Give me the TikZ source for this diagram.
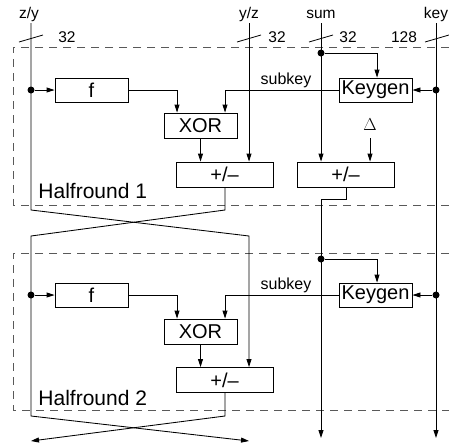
\documentclass[tikz,border=0pt]{standalone}
\usepackage{fontspec}
\setmainfont{Liberation Sans}
\usetikzlibrary{arrows.meta}
\begin{document}
\begin{tikzpicture}[x=1pt,y=-1pt,line width=0.85pt,
  >={Triangle[length=8pt,width=5pt]},
  blk/.style={draw,rectangle,inner sep=0pt,minimum height=24pt,font=\fontsize{20}{22}\selectfont},
  toplbl/.style={inner sep=0pt,font=\fontsize{15.5}{17}\selectfont},
  sublbl/.style={inner sep=0pt,font=\fontsize{16}{18}\selectfont},
  hrlbl/.style={inner sep=0pt,anchor=base west,font=\fontsize{21}{23}\selectfont},
  dot/.style={circle,fill,inner sep=0pt,minimum size=7pt},
  boxline/.style={dashed,dash pattern=on 8pt off 6pt,draw=black!65,line width=0.9pt},
  slash/.style={line width=0.8pt}]
\useasboundingbox (0,0) rectangle (449,445);

% dashed halfround frames
\draw[boxline] (449,47) -- (13,47) -- (13,205) -- (449,205);
\draw[boxline] (449,253) -- (13,253) -- (13,410) -- (449,410);
\node[hrlbl] (hr1) at (38,198) {Halfround 1};
\node[hrlbl] (hr2) at (38,405) {Halfround 2};

% top labels
\node[toplbl] (zy) at (29,14) {z/y};
\node[toplbl] (yz) at (249,14) {y/z};
\node[toplbl] (sum) at (321,14) {sum};
\node[toplbl] (key) at (436,14) {key};
\node[toplbl] (w1) at (67,37) {32};
\node[toplbl] (w2) at (277,37) {32};
\node[toplbl] (w3) at (348,37) {32};
\node[toplbl] (w4) at (404,37) {128};
\draw[slash] (19,42) -- (43,35);
\draw[slash] (237,42) -- (261,35);
\draw[slash] (309,42) -- (333,35);
\draw[slash] (425,42) -- (449,35);

% blocks halfround 1
\node[blk,minimum width=73pt] (f1) at (91.5,90) {f};
\node[blk,minimum width=73pt,minimum height=25pt] (xor1) at (200.5,125.5) {XOR};
\node[blk,minimum width=97pt,minimum height=25pt] (pm1) at (224.5,174.5) {+/–};
\node[blk,minimum width=97pt,minimum height=25pt] (pm1r) at (345.5,174.5) {+/–};
\node[blk,minimum width=73pt] (kg1) at (375.5,90) {Keygen};
\node[inner sep=0pt,font=\fontsize{18}{20}\selectfont] (delta) at (370,125) {$\Delta$};
\node[sublbl] (sk1) at (286,80) {subkey};

% blocks halfround 2
\node[blk,minimum width=73pt] (f2) at (91.5,295) {f};
\node[blk,minimum width=73pt,minimum height=25pt] (xor2) at (200.5,331.5) {XOR};
\node[blk,minimum width=97pt,minimum height=25pt] (pm2) at (224.5,380) {+/–};
\node[blk,minimum width=73pt] (kg2) at (375.5,295) {Keygen};
\node[sublbl] (sk2) at (286,285) {subkey};

% dots
\node[dot] (d1) at (31,90) {};
\node[dot] (d2) at (31,295) {};
\node[dot] (ds1) at (321,53) {};
\node[dot] (ds2) at (321,259) {};
\node[dot] (dk1) at (436,90) {};
\node[dot] (dk2) at (436,295) {};

% coordinates
\coordinate (zy0) at (31,23);
\coordinate (yz0) at (249,23);
\coordinate (sum0) at (321,23);
\coordinate (key0) at (436,23);
\coordinate (xa) at (31,210);
\coordinate (xb) at (249,236);
\coordinate (xc) at (225,210);
\coordinate (xd) at (31,236);
\coordinate (xe) at (31,416);
\coordinate (xf) at (249,441);
\coordinate (xg) at (225,416);
\coordinate (xh) at (31,441);
\coordinate (fa1) at (177,90);
\coordinate (ka1) at (225,90);
\coordinate (fa2) at (177,295);
\coordinate (ka2) at (225,295);
\coordinate (kt) at (377,53);
\coordinate (kt2) at (377,259);
\coordinate (dl) at (370,138);
\coordinate (so1) at (346,199);
\coordinate (so2) at (321,199);
\coordinate (sumE) at (321,438);
\coordinate (keyE) at (436,438);

% z/y path with crossing
\draw[->] (zy0) -- (xa) -- (xb) -- (xb |- pm2.north);
\draw[->] (yz0) -- (yz0 |- pm1.north);
\draw[->] (pm1.south -| xc) -- (xc) -- (xd) -- (xe) -- (xf);
\draw[->] (pm2.south -| xg) -- (xg) -- (xh);

% halfround 1 internals
\draw[->] (d1) -- (f1.west);
\draw[->] (f1.east) -- (fa1) -- (fa1 |- xor1.north);
\draw[->] (kg1.west) -- (ka1) -- (ka1 |- xor1.north);
\draw[->] (xor1.south) -- (xor1.south |- pm1.north);
\draw[->] (sum0) -- (sum0 |- pm1r.north);
\draw[->] (ds1) -- (kt) -- (kt |- kg1.north);
\draw[->] (dl) -- (dl |- pm1r.north);
\draw[->] (pm1r.south -| so1) -- (so1) -- (so2) -- (sumE);
\draw[->] (key0) -- (keyE);
\draw[->] (dk1) -- (kg1.east);

% halfround 2 internals
\draw[->] (d2) -- (f2.west);
\draw[->] (f2.east) -- (fa2) -- (fa2 |- xor2.north);
\draw[->] (kg2.west) -- (ka2) -- (ka2 |- xor2.north);
\draw[->] (xor2.south) -- (xor2.south |- pm2.north);
\draw[->] (ds2) -- (kt2) -- (kt2 |- kg2.north);
\draw[->] (dk2) -- (kg2.east);
\end{tikzpicture}
\end{document}
